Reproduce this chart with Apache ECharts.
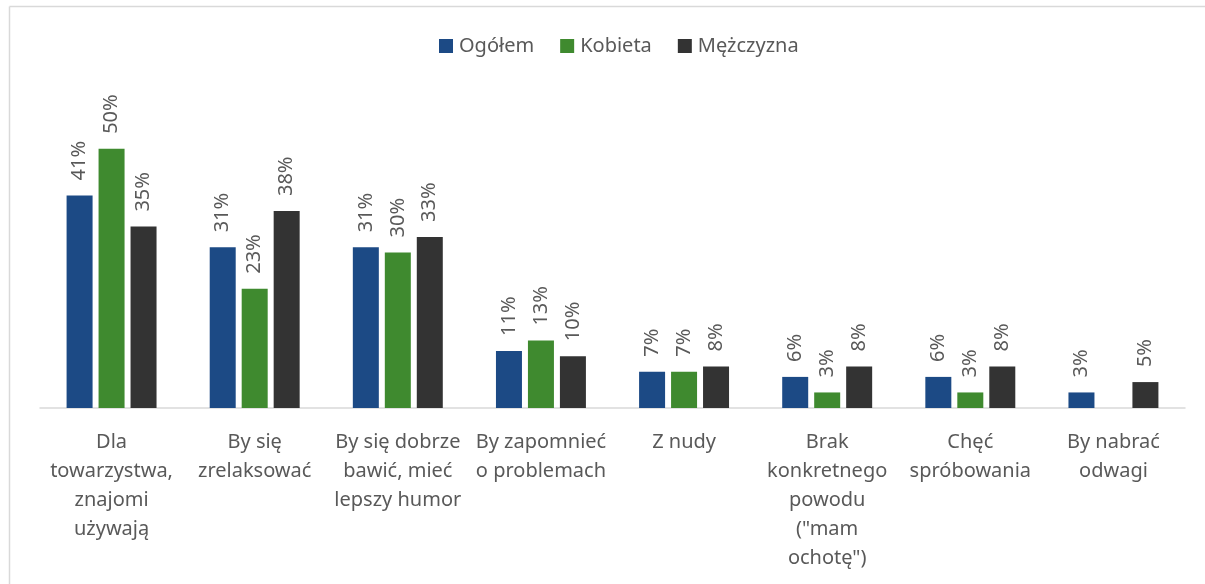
<!DOCTYPE html>
<html>
<head>
<meta charset="utf-8">
<script src="https://cdn.jsdelivr.net/npm/echarts@6/dist/echarts.min.js"></script>
<style>
  html, body { margin: 0; padding: 0; background: #fff; }
  #chart { width: 1205px; height: 584px; }
</style>
</head>
<body>
<div id="chart"></div>
<script>
// kategorie (oś X)
const categories = [
  'Dla\ntowarzystwa,\nznajomi\nużywają',
  'By się\nzrelaksować',
  'By się dobrze\nbawić, mieć\nlepszy humor',
  'By zapomnieć\no problemach',
  'Z nudy',
  'Brak\nkonkretnego\npowodu\n("mam\nochotę")',
  'Chęć\nspróbowania',
  'By nabrać\nodwagi'
]
const seriesNames = ['Ogółem', 'Kobieta', 'Mężczyzna']
// wartości w %
const ogolem = [41, 31, 31, 11, 7, 6, 6, 3]
const kobieta = [50, 23, 30, 13, 7, 3, 3, null]
const mezczyzna = [35, 38, 33, 10, 8, 8, 8, 5]

const colors = ['#1c4a85', '#3f8a2f', '#333333']
const textColor = '#595959'
const fontFamily = '"Noto Sans", sans-serif'

const chart = echarts.init(document.getElementById('chart'))

const labelStyle = {
  show: true,
  position: 'top',
  rotate: 90,
  align: 'left',
  verticalAlign: 'middle',
  distance: 15,
  color: textColor,
  fontSize: 20,
  fontFamily: fontFamily,
  formatter: p => p.value + '%'
}

function makeSeries(name, data, color) {
  return {
    name: name,
    type: 'bar',
    data: data,
    barWidth: 26,
    barGap: '23%',
    itemStyle: { color: color },
    label: labelStyle
  }
}

const option = {
  animation: false,
  backgroundColor: '#fff',
  color: colors,
  textStyle: { fontFamily: fontFamily },
  legend: {
    top: 31,
    left: 434,
    itemWidth: 14,
    itemHeight: 14,
    itemGap: 26,
    icon: 'rect',
    textStyle: { color: textColor, fontSize: 20, fontFamily: fontFamily, padding: [0, 0, 0, 1] },
    data: seriesNames
  },
  grid: { left: 40, right: 20, top: 97, bottom: 176 },
  xAxis: {
    type: 'category',
    data: categories,
    axisTick: { show: false },
    axisLine: { lineStyle: { color: '#d9d9d9', width: 1.5 } },
    axisLabel: {
      interval: 0,
      margin: 20,
      color: textColor,
      fontSize: 20,
      lineHeight: 29,
      fontFamily: fontFamily
    }
  },
  yAxis: {
    type: 'value',
    min: 0,
    max: 60,
    show: false
  },
  graphic: [
    { type: 'line', shape: { x1: 9.5, y1: 6.5, x2: 1205, y2: 6.5 }, style: { stroke: '#d9d9d9', lineWidth: 1.5 } },
    { type: 'line', shape: { x1: 9.5, y1: 6.5, x2: 9.5, y2: 584 }, style: { stroke: '#d9d9d9', lineWidth: 1.5 } }
  ],
  series: [
    makeSeries(seriesNames[0], ogolem, colors[0]),
    makeSeries(seriesNames[1], kobieta, colors[1]),
    makeSeries(seriesNames[2], mezczyzna, colors[2])
  ]
}

chart.setOption(option)
</script>
</body>
</html>
